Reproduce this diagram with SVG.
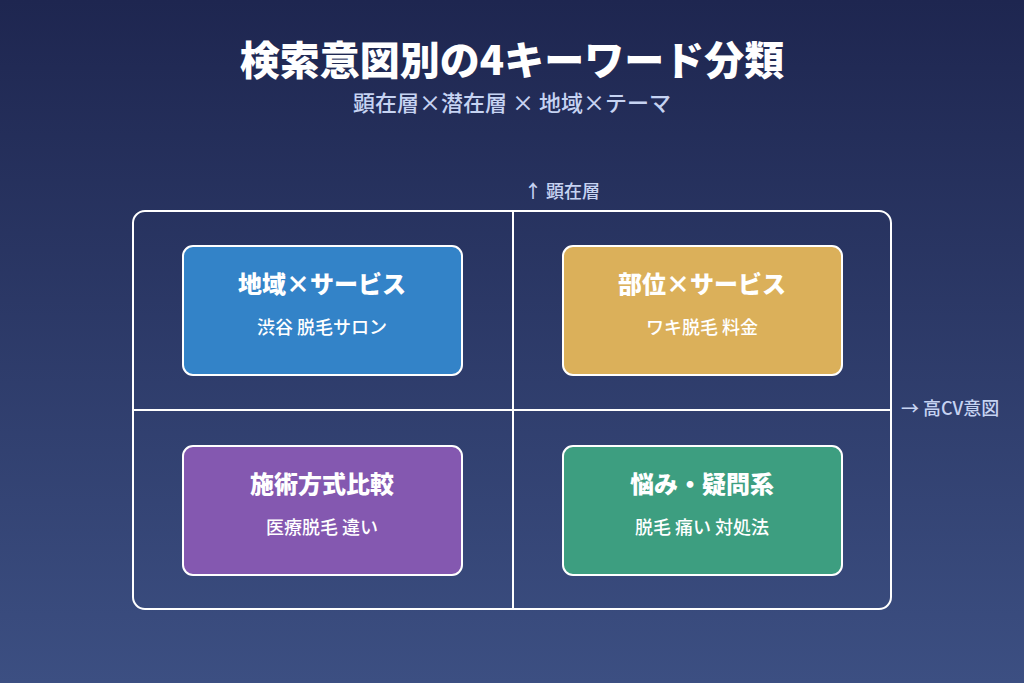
<svg xmlns="http://www.w3.org/2000/svg" width="1024" height="683" viewBox="0 0 1024 683">
<defs>
<linearGradient id="bg" x1="0" y1="0" x2="0" y2="1">
<stop offset="0" stop-color="#1e2650"/>
<stop offset="1" stop-color="#3c4f82"/>
</linearGradient>
<style>
text{font-family:"Noto Sans CJK JP","Noto Sans",sans-serif;text-anchor:middle}
.title{font-size:40px;font-weight:900;fill:#ffffff}
.sub{font-size:22px;font-weight:500;fill:#c6d3f2}
.axis{font-size:18px;font-weight:500;fill:#c6d3f2}
.box{stroke:#ffffff;stroke-width:2}
.bt{font-size:24px;font-weight:900;fill:#ffffff}
.bs{font-size:18px;font-weight:500;fill:#ffffff}
.line{stroke:#ffffff;stroke-width:2;fill:none}
</style>
</defs>
<rect width="1024" height="683" fill="url(#bg)"/>
<text class="title" x="512" y="75">検索意図別の4キーワード分類</text>
<text class="sub" x="512" y="111">顕在層×潜在層 × 地域×テーマ</text>
<g id="connectors">
<rect class="line" x="133" y="211" width="758" height="398" rx="12"/>
<line class="line" x1="513" y1="211" x2="513" y2="609"/>
<line class="line" x1="133" y1="410" x2="891" y2="410"/>
</g>
<text class="axis" x="562" y="198">↑ 顕在層</text>
<text class="axis" x="901" y="415" style="text-anchor:start">→ 高CV意図</text>
<g id="node-area-service">
<rect class="box" x="183" y="246" width="279" height="129" rx="10" fill="#3383c8"/>
<text class="bt" x="322" y="293">地域×サービス</text>
<text class="bs" x="322" y="334">渋谷 脱毛サロン</text>
</g>
<g id="node-part-service">
<rect class="box" x="563" y="246" width="279" height="129" rx="10" fill="#dbb05a"/>
<text class="bt" x="702" y="293">部位×サービス</text>
<text class="bs" x="702" y="334">ワキ脱毛 料金</text>
</g>
<g id="node-method">
<rect class="box" x="183" y="446" width="279" height="129" rx="10" fill="#8458b0"/>
<text class="bt" x="322" y="493">施術方式比較</text>
<text class="bs" x="322" y="534">医療脱毛 違い</text>
</g>
<g id="node-concern">
<rect class="box" x="563" y="446" width="279" height="129" rx="10" fill="#3d9e80"/>
<text class="bt" x="702" y="493">悩み・疑問系</text>
<text class="bs" x="702" y="534">脱毛 痛い 対処法</text>
</g>
</svg>
